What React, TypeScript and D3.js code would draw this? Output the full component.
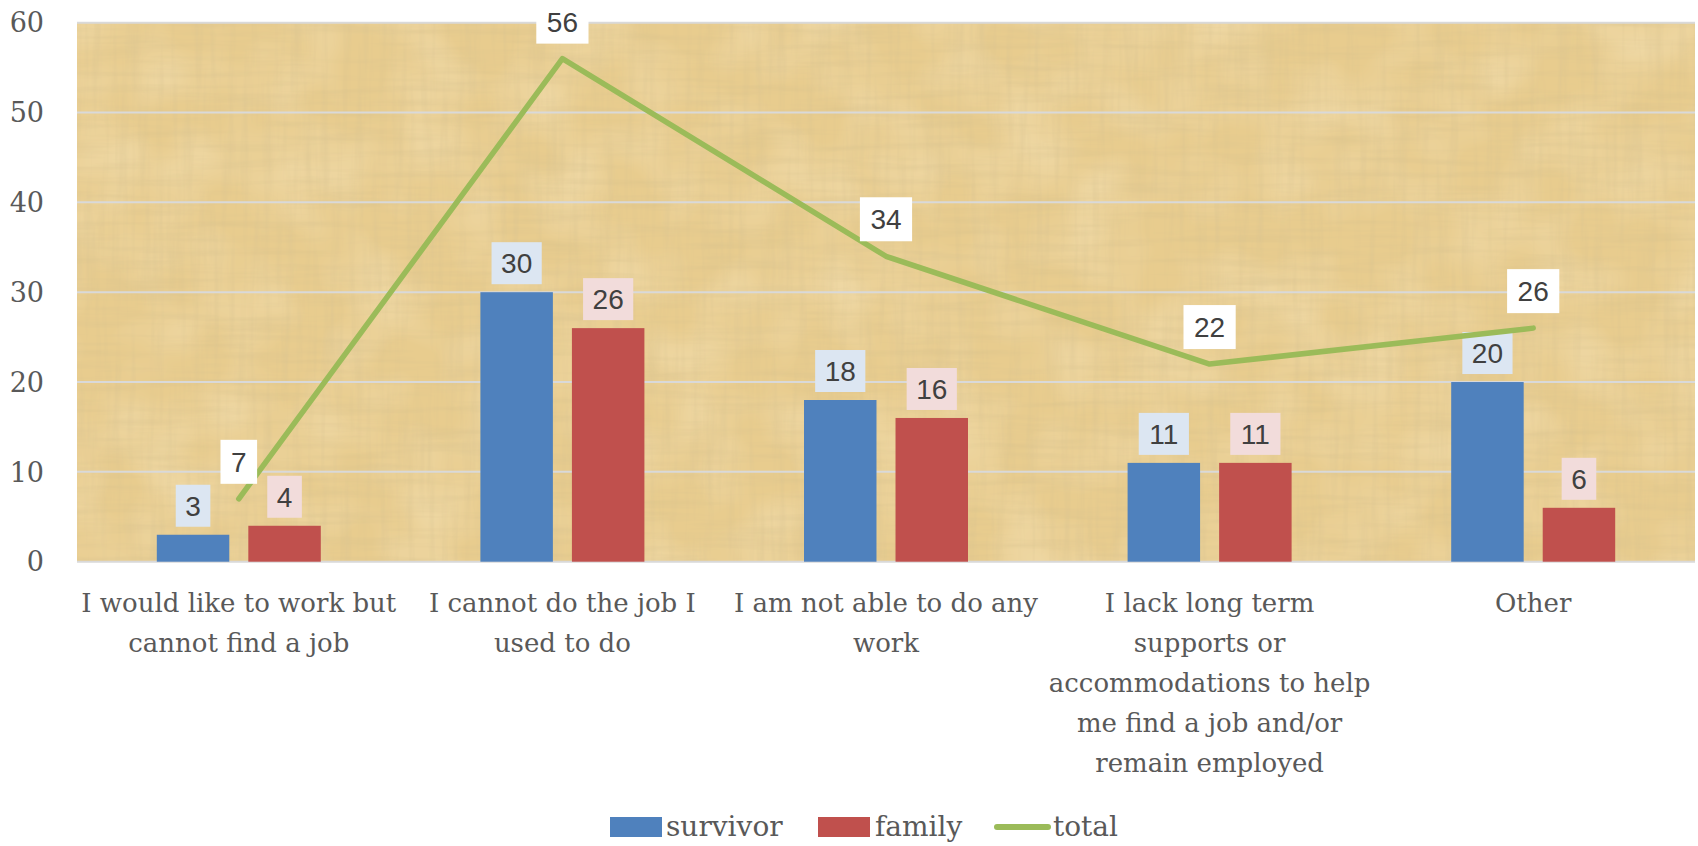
import React, { useEffect, useRef } from "react";
import * as d3 from "d3";

const categories = [
  "I would like to work but cannot find a job",
  "I cannot do the job I used to do",
  "I am not able to do any work",
  "I lack long term supports or accommodations to help me find a job and/or remain employed",
  "Other",
];
const categoryLines = [
  ["I would like to work but", "cannot find a job"],
  ["I cannot do the job I", "used to do"],
  ["I am not able to do any", "work"],
  ["I lack long term", "supports or", "accommodations to help", "me find a job and/or", "remain employed"],
  ["Other"],
];
const survivor = [3, 30, 18, 11, 20];
const family = [4, 26, 16, 11, 6];
const total = [7, 56, 34, 22, 26];
const yTicks = [0, 10, 20, 30, 40, 50, 60];
const seriesNames = ["survivor", "family"];

const W = 1698;
const H = 846;

export default function App() {
  const ref = useRef<SVGSVGElement>(null);

  useEffect(() => {
    const svg = d3.select(ref.current);
    svg.selectAll("*").remove();

    const left = 77, right = 1695, top = 22.7, bottom = 561.7;
    const y = d3.scaleLinear().domain([0, 60]).range([bottom, top]);
    const x = d3.scaleBand<string>().domain(categories).range([left, right]).padding(0);
    const xs = d3.scaleBand<string>().domain(seriesNames).range([-82, 82]).paddingInner(0.208);

    const defs = svg.append("defs");
    const f1 = defs.append("filter").attr("id", "fibH").attr("x", 0).attr("y", 0).attr("width", 1).attr("height", 1);
    f1.append("feTurbulence").attr("type", "fractalNoise").attr("baseFrequency", "0.01 0.14").attr("numOctaves", 3).attr("seed", 3);
    f1.append("feColorMatrix").attr("type", "matrix")
      .attr("values", "0 0 0 0 0.66  0 0 0 0 0.52  0 0 0 0 0.26  0 0 0 0.7 -0.3");
    const f2 = defs.append("filter").attr("id", "fibV").attr("x", 0).attr("y", 0).attr("width", 1).attr("height", 1);
    f2.append("feTurbulence").attr("type", "fractalNoise").attr("baseFrequency", "0.14 0.01").attr("numOctaves", 3).attr("seed", 7);
    f2.append("feColorMatrix").attr("type", "matrix")
      .attr("values", "0 0 0 0 0.68  0 0 0 0 0.54  0 0 0 0 0.28  0 0 0 0.7 -0.3");
    const f3 = defs.append("filter").attr("id", "blot").attr("x", 0).attr("y", 0).attr("width", 1).attr("height", 1);
    f3.append("feTurbulence").attr("type", "fractalNoise").attr("baseFrequency", "0.015 0.015").attr("numOctaves", 2).attr("seed", 11);
    f3.append("feColorMatrix").attr("type", "matrix")
      .attr("values", "0 0 0 0 0.98  0 0 0 0 0.88  0 0 0 0 0.66  0 0 0 0.6 -0.22");

    const plot = svg.append("g");
    const bg = (fill: string | null, filter: string | null) => {
      const r = plot.append("rect").attr("x", left).attr("y", top).attr("width", right - left).attr("height", bottom - top);
      if (fill) r.attr("fill", fill);
      if (filter) r.attr("filter", filter);
    };
    bg("#E8CC8E", null);
    bg(null, "url(#blot)");
    bg(null, "url(#fibH)");
    bg(null, "url(#fibV)");

    // gridlines
    svg.append("g").selectAll("line").data(yTicks).join("line")
      .attr("x1", left).attr("x2", right)
      .attr("y1", (d) => y(d)).attr("y2", (d) => y(d))
      .attr("stroke", "#D9D9D9").attr("stroke-width", 2);

    const serif = "DejaVu Serif";

    // y tick labels
    svg.append("g").selectAll("text").data(yTicks).join("text")
      .attr("x", 44).attr("y", (d) => y(d)).attr("dy", "0.36em")
      .attr("text-anchor", "end")
      .style("font-family", serif)
      .attr("font-size", 27).attr("fill", "#595959")
      .text((d) => d);

    // bars
    const barData = categories.flatMap((c, i) => [
      { c, s: "survivor", v: survivor[i] },
      { c, s: "family", v: family[i] },
    ]);
    const colors: Record<string, string> = { survivor: "#4F81BD", family: "#C0504D" };
    const labelBg: Record<string, string> = { survivor: "#DCE6F2", family: "#F2DCDB" };
    const cx = (c: string) => (x(c) as number) + x.bandwidth() / 2;

    svg.append("g").selectAll("rect").data(barData).join("rect")
      .attr("x", (d) => cx(d.c) + (xs(d.s) as number))
      .attr("y", (d) => y(d.v))
      .attr("width", xs.bandwidth())
      .attr("height", (d) => y(0) - y(d.v))
      .attr("fill", (d) => colors[d.s]);

    const labelFont = "Liberation Sans";
    const digitW = 15.6;
    // bar labels
    const bl = svg.append("g").selectAll("g").data(barData).join("g");
    bl.append("rect")
      .attr("x", (d) => cx(d.c) + (xs(d.s) as number) + xs.bandwidth() / 2 - (String(d.v).length * digitW + 19) / 2)
      .attr("y", (d) => y(d.v) - 8 - 42)
      .attr("width", (d) => String(d.v).length * digitW + 19)
      .attr("height", 42)
      .attr("fill", (d) => labelBg[d.s]);
    bl.append("text")
      .attr("x", (d) => cx(d.c) + (xs(d.s) as number) + xs.bandwidth() / 2)
      .attr("y", (d) => y(d.v) - 8 - 21).attr("dy", "0.36em")
      .attr("text-anchor", "middle")
      .style("font-family", labelFont).attr("font-size", 28).attr("fill", "#404040")
      .text((d) => d.v);

    // line
    const lineData = categories.map((c, i) => ({ c, v: total[i] }));
    const line = d3.line<{ c: string; v: number }>().x((d) => cx(d.c)).y((d) => y(d.v));
    svg.append("path").datum(lineData).attr("d", line)
      .attr("fill", "none").attr("stroke", "#9BBB59").attr("stroke-width", 5.5)
      .attr("stroke-linecap", "round").attr("stroke-linejoin", "round");

    const ll = svg.append("g").selectAll("g").data(lineData).join("g");
    ll.append("rect")
      .attr("x", (d) => cx(d.c) - (String(d.v).length * digitW + 21) / 2)
      .attr("y", (d) => y(d.v) - 37 - 22)
      .attr("width", (d) => String(d.v).length * digitW + 21)
      .attr("height", 44)
      .attr("fill", "#FFFFFF");
    ll.append("text")
      .attr("x", (d) => cx(d.c))
      .attr("y", (d) => y(d.v) - 37).attr("dy", "0.36em")
      .attr("text-anchor", "middle")
      .style("font-family", labelFont).attr("font-size", 28).attr("fill", "#404040")
      .text((d) => d.v);

    // category labels
    const cl = svg.append("g").selectAll("text").data(categories).join("text")
      .attr("text-anchor", "middle")
      .style("font-family", serif).attr("font-size", 26).attr("fill", "#595959");
    cl.each(function (c, i) {
      d3.select(this).selectAll("tspan").data(categoryLines[i]).join("tspan")
        .attr("x", cx(c)).attr("y", (_d, j) => 612 + j * 40)
        .text((d) => d);
    });

    // legend
    const lg = svg.append("g");
    const lt = (xp: number, t: string) =>
      lg.append("text").attr("x", xp).attr("y", 836).style("font-family", serif).attr("font-size", 28).attr("fill", "#595959").text(t);
    lg.append("rect").attr("x", 610).attr("y", 817).attr("width", 52).attr("height", 20).attr("fill", colors.survivor);
    lt(666, "survivor");
    lg.append("rect").attr("x", 818).attr("y", 817).attr("width", 52).attr("height", 20).attr("fill", colors.family);
    lt(875, "family");
    lg.append("line").attr("x1", 997).attr("x2", 1048).attr("y1", 827).attr("y2", 827)
      .attr("stroke", "#9BBB59").attr("stroke-width", 6).attr("stroke-linecap", "round");
    lt(1053, "total");
  }, []);

  return (
    <div style={{ position: "absolute", left: 0, top: 0, width: W, height: H, background: "#fff" }}>
      <svg ref={ref} width={W} height={H} style={{ display: "block" }} />
    </div>
  );
}
